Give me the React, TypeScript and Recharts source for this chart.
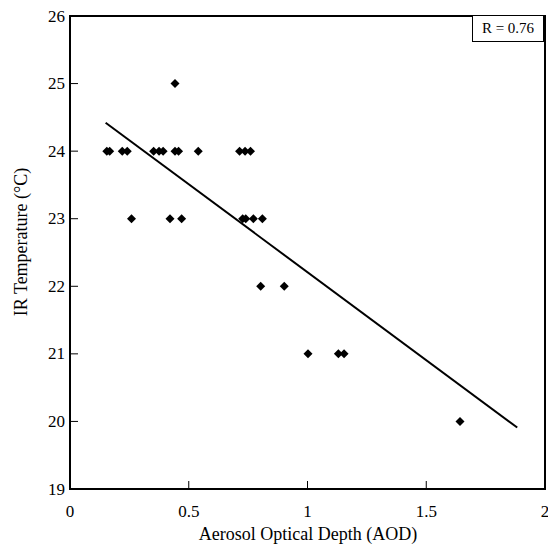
import React from "react";
import {
  ScatterChart,
  Scatter,
  XAxis,
  YAxis,
  ReferenceArea,
  ReferenceLine,
} from "recharts";

// AOD readings and matching IR temperatures
const aod = [
  0.155, 0.167, 0.22, 0.241, 0.352, 0.375, 0.392, 0.442, 0.457, 0.54, 0.714,
  0.737, 0.76, 0.442, 0.259, 0.421, 0.47, 0.727, 0.74, 0.772, 0.81, 0.803,
  0.902, 1.002, 1.13, 1.154, 1.642,
];
const temp = [
  24, 24, 24, 24, 24, 24, 24, 24, 24, 24, 24, 24, 24, 25, 23, 23, 23, 23, 23,
  23, 23, 22, 22, 21, 21, 21, 20,
];

// regression line end points
const fitX = [0.15, 1.883];
const fitY = [24.42, 19.91];

const xTicks = [0, 0.5, 1, 1.5, 2];
const yTicks = [19, 20, 21, 22, 23, 24, 25, 26];
const rLabel = "R = 0.76";

const data = aod.map((x, i) => ({ x, y: temp[i] }));

const FONT = "Liberation Serif, Times New Roman, serif";
const txt = { fontFamily: FONT };

const Diamond = (props: any) => {
  const { cx, cy } = props;
  const r = 4.5;
  return (
    <path
      d={`M${cx},${cy - r}L${cx + r},${cy}L${cx},${cy + r}L${cx - r},${cy}Z`}
      fill="#000"
    />
  );
};

const XTick = (props: any) => {
  const { x, y, payload } = props;
  return (
    <g>
      <line x1={x} y1={y} x2={x} y2={y - 8} stroke="#000" strokeWidth={1} />
      <text
        x={x}
        y={y + 28}
        textAnchor="middle"
        style={txt}
        fontSize={17}
        fill="#000"
      >
        {String(payload.value)}
      </text>
    </g>
  );
};

const YTick = (props: any) => {
  const { x, y, payload } = props;
  return (
    <g>
      <line x1={x} y1={y} x2={x + 8} y2={y} stroke="#000" strokeWidth={1} />
      <text
        x={x - 5}
        y={y + 5.5}
        textAnchor="end"
        style={txt}
        fontSize={17}
        fill="#000"
      >
        {payload.value}
      </text>
    </g>
  );
};

export default function App() {
  return (
    <div
      style={{
        position: "absolute",
        left: 0,
        top: 0,
        width: 548,
        height: 548,
        background: "#fff",
        fontFamily: FONT,
      }}
    >
      <ScatterChart
        width={548}
        height={548}
        margin={{ top: 16, right: 3, bottom: 0, left: 0 }}
      >
        <XAxis
          type="number"
          dataKey="x"
          domain={[0, 2]}
          ticks={xTicks}
          height={59}
          tickSize={0}
          tickMargin={0}
          axisLine={false}
          tick={<XTick />}
          interval={0}
          label={{
            content: () => (
              <text
                x={308}
                y={540}
                textAnchor="middle"
                style={txt}
                fontSize={18}
                fill="#000"
              >
                Aerosol Optical Depth (AOD)
              </text>
            ),
          }}
        />
        <YAxis
          type="number"
          dataKey="y"
          domain={[19, 26]}
          ticks={yTicks}
          width={70}
          tickSize={0}
          tickMargin={0}
          axisLine={false}
          tick={<YTick />}
          interval={0}
          label={{
            content: () => (
              <text
                x={27}
                y={242}
                transform="rotate(-90 27 242)"
                textAnchor="middle"
                style={txt}
                fontSize={18}
                fill="#000"
              >
                IR Temperature (°C)
              </text>
            ),
          }}
        />
        <ReferenceArea
          x1={0}
          x2={2}
          y1={19}
          y2={26}
          fill="none"
          fillOpacity={0}
          stroke="#000"
          strokeWidth={2}
          strokeOpacity={1}
          ifOverflow="visible"
        />
        <ReferenceLine
          segment={[
            { x: fitX[0], y: fitY[0] },
            { x: fitX[1], y: fitY[1] },
          ]}
          stroke="#000"
          strokeWidth={2}
        />
        <Scatter data={data} shape={<Diamond />} isAnimationActive={false} />
      </ScatterChart>
      <div
        style={{
          position: "absolute",
          left: 472,
          top: 15,
          width: 72,
          height: 27,
          boxSizing: "border-box",
          border: "1px solid #000",
          background: "#fff",
          fontFamily: FONT,
          fontSize: 15,
          lineHeight: "25px",
          textAlign: "center",
          color: "#000",
        }}
      >
        {rLabel}
      </div>
    </div>
  );
}
